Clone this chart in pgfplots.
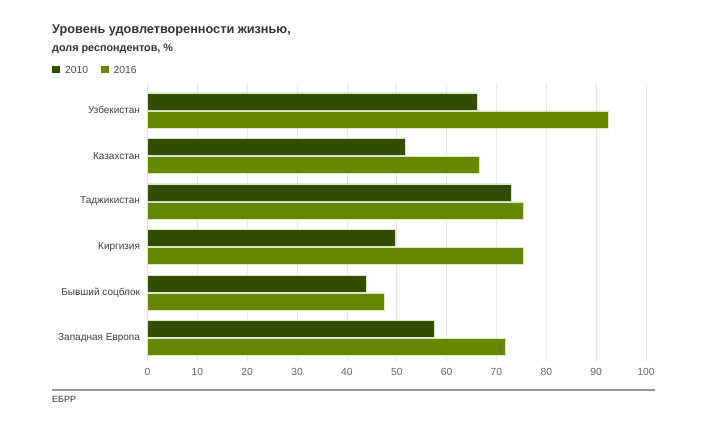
\documentclass[border=0pt]{standalone}
\usepackage{pgfplots}
\pgfplotsset{compat=1.18}
\usepackage{fontspec}
\setmainfont{Liberation Sans}
\definecolor{c10}{HTML}{334D00}
\definecolor{c16}{HTML}{668800}
\definecolor{barline}{HTML}{DDE6C4}
\begin{document}
\begin{tikzpicture}
\useasboundingbox[fill=white] (0pt,0pt) rectangle (714pt,422pt);
\node[anchor=base west, inner sep=0pt, font=\bfseries\fontsize{12.7}{15}\selectfont, text=black!80] at (52pt,388pt) {Уровень удовлетворенности жизнью,};
\node[anchor=base west, inner sep=0pt, font=\bfseries\fontsize{10.8}{13}\selectfont, text=black!80] at (52pt,370.5pt) {доля респондентов, \%};
\fill[c10] (52pt,348.7pt) rectangle (60pt,355.7pt);
\node[anchor=base west, inner sep=0pt, font=\fontsize{10.3}{12}\selectfont, text=black!70] at (65pt,348.7pt) {2010};
\fill[c16] (101pt,348.7pt) rectangle (109pt,355.7pt);
\node[anchor=base west, inner sep=0pt, font=\fontsize{10.3}{12}\selectfont, text=black!70] at (113.5pt,348.7pt) {2016};
\begin{axis}[
  at={(147.5pt,61pt)}, anchor=south west,
  width=498.5pt, height=278pt, scale only axis,
  xbar, xmin=0, xmax=100, ymin=-0.6, ymax=5.5, y dir=reverse,
  axis line style={draw=none},
  xtick={0,10,...,100},
  xmajorgrids, major grid style={draw=black!9, line width=0.7pt},
  ytick={0,1,2,3,4,5},
  yticklabels={Узбекистан,Казахстан,Таджикистан,Киргизия,Бывший соцблок,Западная Европа},
  tick style={draw=none}, major tick length=0pt,
  xticklabel style={text=black!60, font=\fontsize{10.3}{12}\selectfont, yshift=-4pt},
  yticklabel style={text=black!75, font=\fontsize{10}{12}\selectfont, xshift=-4pt},
  /pgf/number format/assume math mode=true,
  bar width=17pt,
  clip=false,
]
\addplot[fill=c10, draw=barline, line width=0.6pt, bar shift=9pt] coordinates {(66.1,0) (51.7,1) (73.0,2) (49.7,3) (43.8,4) (57.6,5)};
\addplot[fill=c16, draw=barline, line width=0.6pt, bar shift=-9pt] coordinates {(92.5,0) (66.5,1) (75.4,2) (75.4,3) (47.6,4) (71.8,5)};
\end{axis}
\draw[black!40, line width=2pt] (52pt,32pt) -- (655pt,32pt);
\node[anchor=base west, inner sep=0pt, font=\fontsize{9}{11}\selectfont, text=black!80] at (52pt,19.5pt) {ЕБРР};
\end{tikzpicture}
\end{document}
